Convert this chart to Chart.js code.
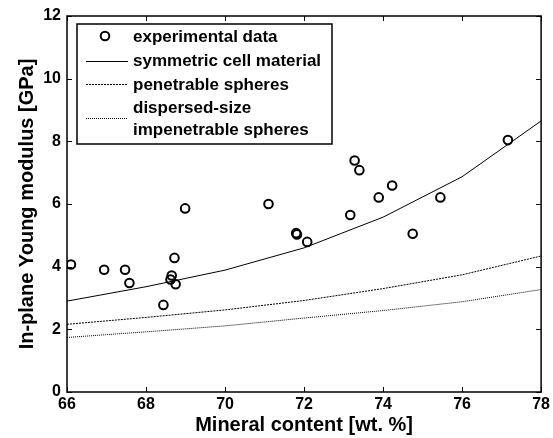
<!DOCTYPE html>
<html>
<head>
<meta charset="utf-8">
<script src="https://cdn.jsdelivr.net/npm/chart.js@4.4.0/dist/chart.umd.min.js"></script>
<style>
  html, body { margin: 0; padding: 0; background: #fff; }
  #wrap { width: 553px; height: 438px; }
</style>
</head>
<body>
<div id="wrap"><canvas id="grafica" width="553" height="438"></canvas></div>
<script>
const expX = [66.10, 66.94, 67.47, 67.58, 68.44, 68.62, 68.65, 68.75, 68.72, 68.99,
              71.10, 71.80, 71.82, 72.08, 73.17, 73.28, 73.40, 73.89, 74.23, 74.75, 75.45, 77.16];
const expY = [4.07, 3.90, 3.90, 3.48, 2.78, 3.59, 3.72, 3.44, 4.28, 5.86,
              6.00, 5.07, 5.03, 4.79, 5.65, 7.39, 7.08, 6.21, 6.59, 5.05, 6.21, 8.04];

// curvas de los modelos
const modeloX = [66, 68, 70, 72, 74, 76, 78];
const celdaSimetrica = [2.90, 3.36, 3.89, 4.60, 5.58, 6.87, 8.65];
const esferasPenetrables = [2.16, 2.38, 2.62, 2.92, 3.30, 3.74, 4.34];
const esferasImpenetrables = [1.74, 1.92, 2.11, 2.36, 2.60, 2.88, 3.27];

const ticksX = [66, 68, 70, 72, 74, 76, 78];
const ticksY = [0, 2, 4, 6, 8, 10, 12];

const etiquetas = ['experimental data', 'symmetric cell material', 'penetrable spheres',
                   'dispersed-size', 'impenetrable spheres'];

const fuente = 'Liberation Sans, Arial, sans-serif';

function puntos(xs, ys) {
  return xs.map((x, i) => ({ x: x, y: ys[i] }));
}

// marco, marcas hacia dentro y leyenda
const extras = {
  id: 'extras',
  afterDraw(chart) {
    const ctx = chart.ctx;
    const a = chart.chartArea;
    const sx = chart.scales.x, sy = chart.scales.y;
    ctx.save();
    ctx.strokeStyle = '#000';
    ctx.lineWidth = 1;
    ctx.beginPath();
    ticksX.forEach(v => {
      const p = Math.round(sx.getPixelForValue(v)) + 0.5;
      ctx.moveTo(p, a.bottom); ctx.lineTo(p, a.bottom - 5);
      ctx.moveTo(p, a.top); ctx.lineTo(p, a.top + 5);
    });
    ticksY.forEach(v => {
      const p = Math.round(sy.getPixelForValue(v)) + 0.5;
      ctx.moveTo(a.left, p); ctx.lineTo(a.left + 5, p);
      ctx.moveTo(a.right, p); ctx.lineTo(a.right - 5, p);
    });
    ctx.stroke();
    ctx.lineWidth = 1.5;
    ctx.strokeRect(a.left, a.top, a.right - a.left, a.bottom - a.top);

    // leyenda
    ctx.fillStyle = '#fff';
    ctx.fillRect(77, 24, 255, 120);
    ctx.strokeRect(77, 24, 255, 120);
    ctx.lineWidth = 2;
    ctx.beginPath();
    ctx.arc(105, 36, 4.3, 0, Math.PI * 2);
    ctx.stroke();
    ctx.lineWidth = 1;
    ctx.beginPath();
    ctx.moveTo(86, 61.5); ctx.lineTo(128, 61.5);
    ctx.stroke();
    ctx.setLineDash([2, 1]);
    ctx.beginPath();
    ctx.moveTo(86, 84.5); ctx.lineTo(128, 84.5);
    ctx.stroke();
    ctx.setLineDash([1, 1]);
    ctx.beginPath();
    ctx.moveTo(86, 118.5); ctx.lineTo(128, 118.5);
    ctx.stroke();
    ctx.setLineDash([]);
    ctx.fillStyle = '#000';
    ctx.font = 'bold 17px ' + fuente;
    ctx.textBaseline = 'middle';
    ctx.textAlign = 'left';
    const ys = [37, 61, 85, 108, 130];
    etiquetas.forEach((t, i) => ctx.fillText(t, 133, ys[i]));
    ctx.restore();
  }
};

const ctx = document.getElementById('grafica').getContext('2d');
new Chart(ctx, {
  type: 'scatter',
  data: {
    datasets: [
      {
        label: etiquetas[0],
        data: puntos(expX, expY),
        pointStyle: 'circle',
        pointRadius: 4.3,
        pointBorderWidth: 2,
        pointBorderColor: '#000',
        pointBackgroundColor: 'rgba(0,0,0,0)',
        showLine: false
      },
      {
        label: 'symmetric cell material',
        data: puntos(modeloX, celdaSimetrica),
        showLine: true, pointRadius: 0, borderColor: '#000', borderWidth: 1, tension: 0
      },
      {
        label: 'penetrable spheres',
        data: puntos(modeloX, esferasPenetrables),
        showLine: true, pointRadius: 0, borderColor: '#000', borderWidth: 1, tension: 0,
        borderDash: [2, 1]
      },
      {
        label: 'dispersed-size impenetrable spheres',
        data: puntos(modeloX, esferasImpenetrables),
        showLine: true, pointRadius: 0, borderColor: '#000', borderWidth: 1, tension: 0,
        borderDash: [1, 1]
      }
    ]
  },
  options: {
    responsive: false,
    animation: false,
    layout: { padding: { top: 16, right: 10, left: 0, bottom: 0 } },
    plugins: { legend: { display: false }, tooltip: { enabled: false } },
    scales: {
      x: {
        type: 'linear', min: 66, max: 78,
        afterFit(s) { s.height = 46; },
        afterBuildTicks(s) { s.ticks = ticksX.map(v => ({ value: v })); },
        grid: { display: false, drawTicks: false },
        border: { display: false },
        ticks: { color: '#000', padding: 3, font: { family: fuente, size: 16, weight: 'bold' } },
        title: {
          display: true, text: 'Mineral content [wt. %]', color: '#000',
          font: { family: fuente, size: 20, weight: 'bold' }, padding: { top: 0, bottom: 1 }
        }
      },
      y: {
        type: 'linear', min: 0, max: 12,
        afterFit(s) { s.width = 67; },
        afterBuildTicks(s) { s.ticks = ticksY.map(v => ({ value: v })); },
        grid: { display: false, drawTicks: false },
        border: { display: false },
        ticks: { color: '#000', padding: 6, font: { family: fuente, size: 16, weight: 'bold' } },
        title: {
          display: true, text: 'In-plane Young modulus [GPa]', color: '#000',
          font: { family: fuente, size: 20, weight: 'bold' }, padding: { top: 15, bottom: 0 }
        }
      }
    }
  },
  plugins: [extras]
});
</script>
</body>
</html>
